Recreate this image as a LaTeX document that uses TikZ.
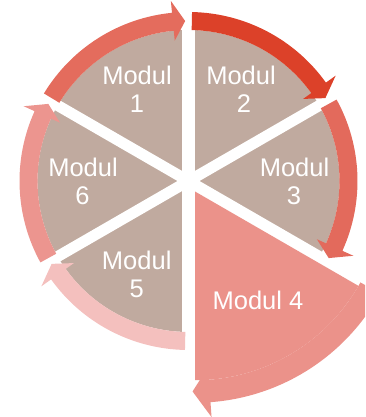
\documentclass[tikz,border=0pt]{standalone}
\usepackage{fontspec}
\setmainfont{Liberation Sans}
\definecolor{wedgegray}{HTML}{C0AA9F}
\definecolor{arrowA}{HTML}{E46C5D}
\definecolor{arrowB}{HTML}{DC4129}
\definecolor{arrowC}{HTML}{E36A5C}
\definecolor{pinkD}{HTML}{EB928A}
\definecolor{arrowE}{HTML}{F4C0BE}
\definecolor{arrowF}{HTML}{EC958F}
\newcommand{\ringband}[4]{%
  \fill[#1, shift={(188.5,236)}] (#2:169pt) arc[start angle=#2, end angle=#3, radius=169pt]
    -- (#3:181pt) -- (#4:160pt) -- (#3:141pt) -- (#3:151pt)
    arc[start angle=#3, end angle=#2, radius=151pt] -- cycle;}
\begin{document}
\begin{tikzpicture}[x=1pt,y=1pt,
  lbl/.style={text=white, font=\fontsize{25.5}{28}\selectfont, inner sep=0pt, anchor=base},
  gapline/.style={white, line width=11pt},
  vgapline/.style={white, line width=13pt}]
\useasboundingbox (0,0) rectangle (365,417);
\clip (0,0) rectangle (365,417);
\coordinate (C) at (188.5,236);
\coordinate (A) at (195,225.5);
% gray wedges (all but Modul 4)
\fill[wedgegray] (C) -- ++(-30:151pt) arc[start angle=-30, end angle=270, radius=151pt] -- cycle;
% white gaps
\foreach \a in {30,150,210,-30} \draw[gapline] (C) -- ++(\a:176pt);
\foreach \a in {90,-90} \draw[vgapline] (C) -- ++(\a:176pt);
% arrow bands
\ringband{arrowA}{148.8}{95.6}{91.2}
\ringband{arrowB}{88.8}{35.6}{31.2}
\ringband{arrowC}{28.8}{-24.4}{-28.8}
\ringband{arrowE}{-91.2}{-144.4}{-148.8}
\ringband{arrowF}{-151.2}{-204.4}{-208.8}
% emphasised Modul 4
\fill[pinkD] (A) -- ++(-30:188.75pt) arc[start angle=-30, end angle=-90, radius=188.75pt] -- cycle;
\fill[pinkD, shift={(195,225.5)}] (-28.8:211.25pt) arc[start angle=-28.8, end angle=-85.8, radius=211.25pt]
  -- (-85.8:226.25pt) -- (-90.7:200pt) -- (-85.8:176.25pt) -- (-85.8:188.75pt)
  arc[start angle=-85.8, end angle=-28.8, radius=188.75pt] -- cycle;
% labels
\node[lbl] (m1a) at (137,332) {Modul};
\node[lbl] (m1b) at (137,304) {1};
\node[lbl] (m2a) at (241,332) {Modul};
\node[lbl] (m2b) at (244,304) {2};
\node[lbl] (m3a) at (294.5,240.3) {Modul};
\node[lbl] (m3b) at (294,212.3) {3};
\node[lbl] (m6a) at (83,240.3) {Modul};
\node[lbl] (m6b) at (82.5,212.3) {6};
\node[lbl] (m5a) at (136.7,147) {Modul};
\node[lbl] (m5b) at (136.7,119) {5};
\node[lbl] (m4) at (258,107) {Modul 4};
\end{tikzpicture}
\end{document}
